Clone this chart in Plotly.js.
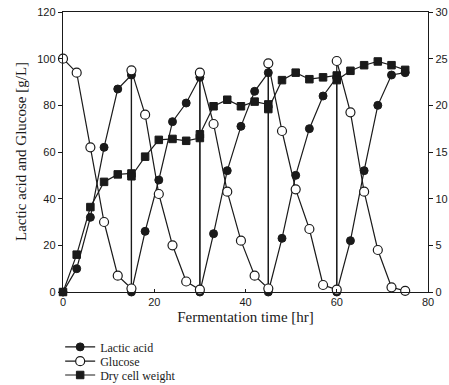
<!DOCTYPE html>
<html>
<head>
<meta charset="utf-8">
<script src="https://cdn.plot.ly/plotly-3.0.1.min.js"></script>
<style>
html,body{margin:0;padding:0;background:#fff;}
#chart{width:449px;height:385px;}
</style>
</head>
<body>
<div id="chart"></div>
<script>
// Lactic acid (g/L)
const lacticTime = [0,3,6,9,12,15,15,18,21,24,27,30,30,33,36,39,42,45,45,48,51,54,57,60,60,63,66,69,72,75];
const lacticVals = [0,10,32,62,87,93,0,26,48,73,81,92,0,25,52,71,86,94,0,23,50,70,84,92,0,22,52,80,93,94];
// Glucose (g/L)
const glucoseTime = [0,3,6,9,12,15,15,18,21,24,27,30,30,33,36,39,42,45,45,48,51,54,57,60,60,63,66,69,72,75];
const glucoseVals = [100,94,62,30,7,1.5,95,76,42,20,4.5,1,94,72,43,22,7,1.5,98,69,44,27,3,1,99,77,43,18,2,0.5];
// Dry cell weight (g/L, right axis)
const dcwTime = [0,3,6,9,12,15,15,18,21,24,27,30,30,33,36,39,42,45,45,48,51,54,57,60,60,63,66,69,72,75];
const dcwVals = [0,4,9.1,11.8,12.6,12.7,12.4,14.5,16.3,16.4,16.2,16.5,16.9,19.9,20.6,19.9,20.4,20.1,19.6,22.7,23.5,22.8,23.0,23.2,22.7,23.7,24.3,24.7,24.3,23.8];

const leftTicks = [0,20,40,60,80,100,120];
const rightTicks = [0,5,10,15,20,25,30];
const xTicks = [0,20,40,60,80];
const yTitle = "Lactic acid and Glucose [g/L]";
const xTitle = "Fermentation time [hr]";

const serif = "Liberation Serif, Times New Roman, serif";
const sans = "Liberation Sans, Arial, sans-serif";
const ink = "#1a1a1a";

const traces = [
  {
    x: lacticTime, y: lacticVals, name: "Lactic acid", type: "scatter", mode: "lines+markers",
    line: {color: ink, width: 1.2},
    marker: {symbol: "circle", size: 8, color: ink, line: {color: ink, width: 1}},
    cliponaxis: false, legend: "legend"
  },
  {
    x: glucoseTime, y: glucoseVals, name: "Glucose", type: "scatter", mode: "lines+markers",
    line: {color: ink, width: 1.2},
    marker: {symbol: "circle", size: 9, color: "#ffffff", line: {color: ink, width: 1.2}},
    cliponaxis: false, legend: "legend2"
  },
  {
    x: dcwTime, y: dcwVals, name: "Dry cell weight", type: "scatter", mode: "lines+markers", yaxis: "y2",
    line: {color: ink, width: 1.2},
    marker: {symbol: "square", size: 7.5, color: ink, line: {color: ink, width: 1}},
    cliponaxis: false, legend: "legend3"
  }
];

const legendBase = {
  xref: "container", yref: "container", xanchor: "left", yanchor: "middle",
  bgcolor: "rgba(0,0,0,0)", borderwidth: 0,
  font: {family: serif, size: 12, color: ink},
  itemwidth: 30
};

const layout = {
  width: 449, height: 385,
  margin: {l: 63, r: 21, t: 12, b: 93, autoexpand: false},
  paper_bgcolor: "#fff", plot_bgcolor: "#fff",
  showlegend: true,
  xaxis: {
    range: [0, 80], tickvals: xTicks, ticktext: xTicks.map(String),
    ticks: "inside", ticklen: 3, tickcolor: ink,
    showline: true, linecolor: ink, linewidth: 1.2, mirror: true,
    showgrid: false, zeroline: false,
    tickfont: {family: sans, size: 11, color: ink},
    title: {text: xTitle, font: {family: serif, size: 15, color: ink}, standoff: 4}
  },
  yaxis: {
    range: [0, 120], tickvals: leftTicks, ticktext: leftTicks.map(String),
    ticks: "outside", ticklen: 4, tickcolor: ink,
    showline: true, linecolor: ink, linewidth: 1.2, mirror: false,
    showgrid: false, zeroline: false,
    tickfont: {family: sans, size: 11, color: ink}
  },
  yaxis2: {
    range: [0, 30], tickvals: rightTicks, ticktext: rightTicks.map(String),
    overlaying: "y", side: "right",
    ticks: "outside", ticklen: 4, tickcolor: ink,
    showline: true, linecolor: ink, linewidth: 1.2,
    showgrid: false, zeroline: false,
    tickfont: {family: sans, size: 11, color: ink}
  },
  annotations: [{
    text: yTitle, xref: "paper", yref: "paper", x: -0.115, y: 0.5,
    xanchor: "center", yanchor: "middle", textangle: -90, showarrow: false,
    font: {family: serif, size: 15, color: ink}
  }],
  legend: Object.assign({}, legendBase, {x: 0.134, y: 0.099}),
  legend2: Object.assign({}, legendBase, {x: 0.134, y: 0.062}),
  legend3: Object.assign({}, legendBase, {x: 0.134, y: 0.026})
};

Plotly.newPlot("chart", traces, layout, {displayModeBar: false, staticPlot: true});
</script>
</body>
</html>
